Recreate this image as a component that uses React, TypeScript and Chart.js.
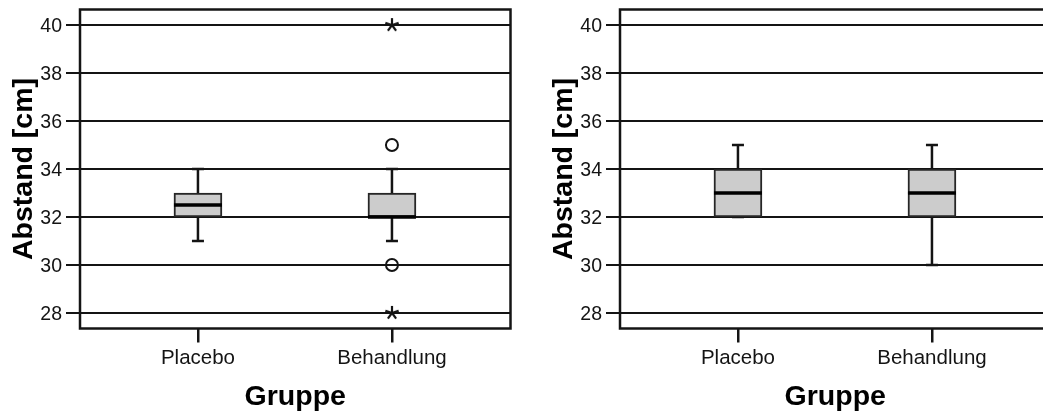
import React, { useEffect, useRef } from 'react';
import { Chart, registerables } from 'chart.js';

Chart.register(...registerables);

// ---------- data ----------
const categories = ['Placebo', 'Behandlung'];
const categoryPositions = [1, 2];
const yTickValues = [28, 30, 32, 34, 36, 38, 40];
const yAxisTitle = 'Abstand [cm]';
const xAxisTitle = 'Gruppe';

// left panel
const leftMin = [31, 31];
const leftQ1 = [32, 32];
const leftMedian = [32.5, 32];
const leftQ3 = [33, 33];
const leftMax = [34, 34];
const leftOutliers = [[], [35, 30]];
const leftExtremes = [[], [40, 28]];

// right panel
const rightMin = [32, 30];
const rightQ1 = [32, 32];
const rightMedian = [33, 33];
const rightQ3 = [34, 34];
const rightMax = [35, 35];
const rightOutliers: number[][] = [[], []];
const rightExtremes: number[][] = [[], []];

// ---------- styling ----------
const FONT = '"Liberation Sans", Arial, Helvetica, sans-serif';
const INK = '#141414';
const BOX_FILL = '#cccccc';
const BOX_WIDTH = 48;
const CAP_WIDTH = 12;

function makeAsterisk(): HTMLCanvasElement {
  const c = document.createElement('canvas');
  c.width = 16;
  c.height = 16;
  const ctx = c.getContext('2d')!;
  ctx.strokeStyle = INK;
  ctx.lineWidth = 2.2;
  ctx.lineCap = 'butt';
  const cx = 8, cy = 8, r = 7;
  for (let k = 0; k < 5; k++) {
    const a = (-90 + k * 72) * Math.PI / 180;
    ctx.beginPath();
    ctx.moveTo(cx, cy);
    ctx.lineTo(cx + r * Math.cos(a), cy + r * Math.sin(a));
    ctx.stroke();
  }
  return c;
}

const boxPlugin = {
  id: 'boxWhiskers',
  beforeDatasetsDraw(chart: any, _args: any, opts: any) {
    const { ctx, scales } = chart;
    const s = opts.stats;
    if (!s) return;
    ctx.save();
    ctx.strokeStyle = INK;
    ctx.lineCap = 'butt';
    categoryPositions.forEach((pos, i) => {
      const x = scales.x.getPixelForValue(pos);
      const yMin = scales.y.getPixelForValue(s.min[i]);
      const yQ1 = scales.y.getPixelForValue(s.q1[i]);
      const yQ3 = scales.y.getPixelForValue(s.q3[i]);
      const yMax = scales.y.getPixelForValue(s.max[i]);
      ctx.lineWidth = 2.5;
      ctx.beginPath();
      ctx.moveTo(x, yQ3);
      ctx.lineTo(x, yMax);
      ctx.moveTo(x, yQ1);
      ctx.lineTo(x, yMin);
      ctx.stroke();
      ctx.lineWidth = 2.5;
      ctx.beginPath();
      ctx.moveTo(x - CAP_WIDTH / 2, yMax);
      ctx.lineTo(x + CAP_WIDTH / 2, yMax);
      ctx.moveTo(x - CAP_WIDTH / 2, yMin);
      ctx.lineTo(x + CAP_WIDTH / 2, yMin);
      ctx.stroke();
    });
    ctx.restore();
  },
  afterDatasetsDraw(chart: any, _args: any, opts: any) {
    const { ctx, scales, chartArea } = chart;
    const s = opts.stats;
    if (s) {
      const meta = chart.getDatasetMeta(0);
      ctx.save();
      ctx.strokeStyle = '#000';
      ctx.lineWidth = 3.5;
      categoryPositions.forEach((pos, i) => {
        const bar = meta.data[i];
        const x = bar ? bar.x : scales.x.getPixelForValue(pos);
        const w = bar ? bar.width : BOX_WIDTH;
        const y = scales.y.getPixelForValue(s.median[i]);
        ctx.beginPath();
        ctx.moveTo(x - w / 2, y);
        ctx.lineTo(x + w / 2, y);
        ctx.stroke();
      });
      ctx.restore();
    }
    ctx.save();
    ctx.strokeStyle = INK;
    ctx.lineWidth = 2.5;
    ctx.strokeRect(chartArea.left, chartArea.top, chartArea.right - chartArea.left, chartArea.bottom - chartArea.top);
    ctx.restore();
  },
};

type Stats = {
  min: number[]; q1: number[]; median: number[]; q3: number[]; max: number[];
  outliers: number[][]; extremes: number[][];
};

function BoxPanel({ stats }: { stats: Stats }) {
  const ref = useRef<HTMLCanvasElement>(null);
  useEffect(() => {
    if (!ref.current) return;
    const star = makeAsterisk();
    const circlePts: { x: number; y: number }[] = [];
    const starPts: { x: number; y: number }[] = [];
    categoryPositions.forEach((pos, i) => {
      stats.outliers[i].forEach((v) => circlePts.push({ x: pos, y: v }));
      stats.extremes[i].forEach((v) => starPts.push({ x: pos, y: v }));
    });
    const chart = new Chart(ref.current, {
      type: 'bar',
      data: {
        datasets: [
          {
            type: 'bar',
            data: categoryPositions.map((x, i) => ({ x, y: [stats.q1[i], stats.q3[i]] })) as any,
            backgroundColor: BOX_FILL,
            borderColor: '#262626',
            borderWidth: 2,
            borderSkipped: false,
            barThickness: BOX_WIDTH,
          } as any,
          {
            type: 'scatter',
            data: circlePts,
            pointStyle: 'circle',
            pointRadius: 6,
            borderWidth: 2,
            borderColor: INK,
            backgroundColor: 'rgba(0,0,0,0)',
          } as any,
          {
            type: 'scatter',
            data: starPts,
            pointStyle: star,
            pointRadius: 7,
          } as any,
        ],
      },
      options: {
        responsive: false,
        animation: false,
        events: [],
        layout: { padding: { top: 9.5, right: 10.5, left: 0, bottom: 0 } },
        plugins: {
          legend: { display: false },
          tooltip: { enabled: false },
          boxWhiskers: { stats },
        } as any,
        scales: {
          x: {
            type: 'linear',
            position: 'bottom',
            min: 0.392,
            max: 2.611,
            offset: false,
            afterBuildTicks: (scale: any) => {
              scale.ticks = categoryPositions.map((v) => ({ value: v }));
            },
            afterFit: (scale: any) => {
              scale.height = 87.5;
              scale.paddingLeft = 0;
              scale.paddingRight = 0;
            },
            ticks: {
              autoSkip: false,
              maxRotation: 0,
              padding: 4,
              color: INK,
              font: { family: FONT, size: 20.5 },
              callback: (v: any) => categories[categoryPositions.indexOf(Number(v))] ?? '',
            },
            grid: {
              offset: false,
              drawOnChartArea: false,
              drawTicks: true,
              tickLength: 14,
              lineWidth: 2.5,
              color: INK,
            },
            border: { display: false },
            title: {
              display: true,
              text: xAxisTitle,
              color: '#000',
              font: { family: FONT, size: 28.5, weight: 'bold' },
              padding: { top: 0, bottom: 2 },
            },
          },
          y: {
            type: 'linear',
            position: 'left',
            min: 27.35,
            max: 40.65,
            afterBuildTicks: (scale: any) => {
              scale.ticks = yTickValues.map((v) => ({ value: v }));
            },
            afterFit: (scale: any) => {
              scale.width = 80;
              scale.paddingTop = 0;
              scale.paddingBottom = 0;
            },
            ticks: {
              padding: 4,
              labelOffset: 2,
              color: INK,
              font: { family: FONT, size: 19.5 },
              callback: (v: any) => String(v),
            },
            grid: {
              drawOnChartArea: true,
              drawTicks: true,
              tickLength: 14,
              lineWidth: 2,
              color: INK,
            },
            border: { display: false },
            title: {
              display: true,
              text: yAxisTitle,
              color: '#000',
              font: { family: FONT, size: 28.5, weight: 'bold' },
              padding: { top: 7, bottom: 0 },
            },
          },
        },
      } as any,
      plugins: [boxPlugin],
    });
    return () => chart.destroy();
  }, [stats]);
  return <canvas ref={ref} width={521} height={416} style={{ display: 'block', width: 521, height: 416 }} />;
}

const leftStats: Stats = {
  min: leftMin, q1: leftQ1, median: leftMedian, q3: leftQ3, max: leftMax,
  outliers: leftOutliers, extremes: leftExtremes,
};
const rightStats: Stats = {
  min: rightMin, q1: rightQ1, median: rightMedian, q3: rightQ3, max: rightMax,
  outliers: rightOutliers, extremes: rightExtremes,
};

export default function App() {
  return (
    <div style={{ position: 'fixed', left: 0, top: 0, width: 1043, height: 416, overflow: 'hidden', background: '#fff' }}>
      <div style={{ position: 'absolute', left: 0, top: 0 }}>
        <BoxPanel stats={leftStats} />
      </div>
      <div style={{ position: 'absolute', left: 540, top: 0 }}>
        <BoxPanel stats={rightStats} />
      </div>
    </div>
  );
}
